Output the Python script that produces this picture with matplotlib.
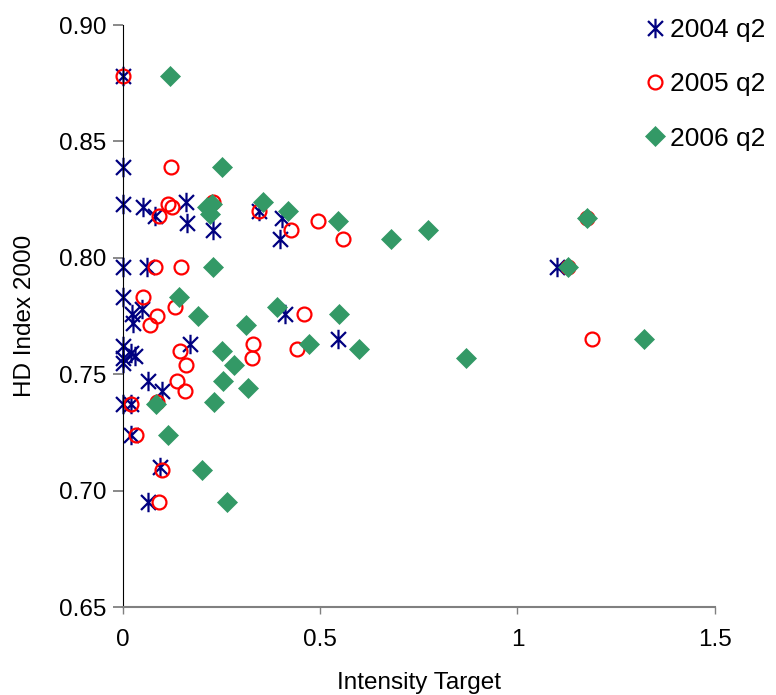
import numpy as np
import matplotlib
matplotlib.use("Agg")
import matplotlib.pyplot as plt
from matplotlib.path import Path

plt.rcParams['font.family'] = ['Liberation Sans', 'DejaVu Sans']

# 2004 q2
x2004 = [0, 0, 0, 0.051, 0.081, 0.16, 0.162, 0.228, 0.345, 0.403, 0.398,
         0, 0.06, 0, 0.048, 0.023, 0.025, 0.41, 0.17, 0.545,
         0, 0.02, 0.03, 0, 0, 0.063, 0.10, 0, 0.02, 0.02, 0.094, 0.063, 1.10]
y2004 = [0.878, 0.839, 0.823, 0.822, 0.818, 0.824, 0.815, 0.812, 0.820, 0.817, 0.808,
         0.796, 0.796, 0.783, 0.778, 0.776, 0.772, 0.776, 0.763, 0.765,
         0.762, 0.759, 0.758, 0.757, 0.755, 0.747, 0.743, 0.737, 0.737, 0.724, 0.710, 0.695, 0.796]

# 2005 q2
x2005 = [0, 0.122, 0.115, 0.124, 0.092, 0.228, 0.345, 0.426, 0.494, 0.557,
         0.081, 0.147, 0.05, 0.132, 0.086, 0.068, 0.459, 0.33, 0.327, 0.44,
         0.144, 0.16, 0.137, 0.157, 0.086, 0.02, 0.033, 0.099, 0.092,
         1.176, 1.127, 1.19]
y2005 = [0.878, 0.839, 0.823, 0.822, 0.818, 0.824, 0.820, 0.812, 0.816, 0.808,
         0.796, 0.796, 0.783, 0.779, 0.775, 0.771, 0.776, 0.763, 0.757, 0.761,
         0.760, 0.754, 0.747, 0.743, 0.738, 0.737, 0.724, 0.709, 0.695,
         0.817, 0.796, 0.765]

# 2006 q2
x2006 = [0.119, 0.251, 0.213, 0.225, 0.22, 0.355, 0.418, 0.545, 0.68, 0.773,
         1.176, 0.228, 1.127, 0.142, 0.19, 0.312, 0.39, 0.547, 0.471, 0.598,
         1.32, 0.251, 0.281, 0.253, 0.317, 0.231, 0.084, 0.869, 0.114, 0.20, 0.264]
y2006 = [0.878, 0.839, 0.822, 0.823, 0.819, 0.824, 0.820, 0.816, 0.808, 0.812,
         0.817, 0.796, 0.796, 0.783, 0.775, 0.771, 0.779, 0.776, 0.763, 0.761,
         0.765, 0.760, 0.754, 0.747, 0.744, 0.738, 0.737, 0.757, 0.724, 0.709, 0.695]

labels = ['2004 q2', '2005 q2', '2006 q2']
xticks = [0, 0.5, 1, 1.5]
xticklabels = ['0', '0.5', '1', '1.5']
yticks = [0.65, 0.70, 0.75, 0.80, 0.85, 0.90]

# asterisk like excel: X plus a vertical bar
star = Path([(-1, -1), (1, 1), (-1, 1), (1, -1), (0, -1.3), (0, 1.3)],
            [Path.MOVETO, Path.LINETO, Path.MOVETO, Path.LINETO, Path.MOVETO, Path.LINETO])

fig = plt.figure(figsize=(7.76, 6.95), dpi=100)
ax = fig.add_axes([0.1585, 0.1266, 0.7625, 0.8374])

ax.plot(x2004, y2004, linestyle='none', marker=star, markersize=14,
        markeredgecolor='#000080', markerfacecolor='none', markeredgewidth=1.6,
        label=labels[0], clip_on=False)
ax.plot(x2005, y2005, linestyle='none', marker='o', markersize=10,
        markeredgecolor='#FF0000', markerfacecolor='none', markeredgewidth=1.6,
        label=labels[1], clip_on=False)
ax.plot(x2006, y2006, linestyle='none', marker='D', markersize=10,
        markeredgecolor='#339966', markerfacecolor='#339966', markeredgewidth=0.5,
        label=labels[2], clip_on=False)

ax.set_xlim(0, 1.5)
ax.set_ylim(0.65, 0.90)
ax.set_xticks(xticks)
ax.set_xticklabels(xticklabels)
ax.set_yticks(yticks)
ax.set_yticklabels(['%.2f' % v for v in yticks])

ax.spines['top'].set_visible(False)
ax.spines['right'].set_visible(False)
ax.spines['left'].set_color('black')
ax.spines['bottom'].set_color('#808080')
ax.spines['bottom'].set_linewidth(1.5)
ax.tick_params(axis='y', length=7, width=1.3, color='#808080', labelsize=17.5, pad=5)
ax.tick_params(axis='x', length=5, width=1, color='#808080', labelsize=17.5, pad=11)

ax.set_xlabel('Intensity Target', fontsize=17.5, labelpad=15)
ax.set_ylabel('HD Index 2000', fontsize=17.5, labelpad=16.5)

fig.legend(loc='upper left', bbox_to_anchor=(0.820, 0.9895), frameon=False,
           fontsize=19, labelspacing=1.15, handlelength=0.6, handletextpad=0.27,
           borderaxespad=0)

fig.savefig('out.png', dpi=100)
